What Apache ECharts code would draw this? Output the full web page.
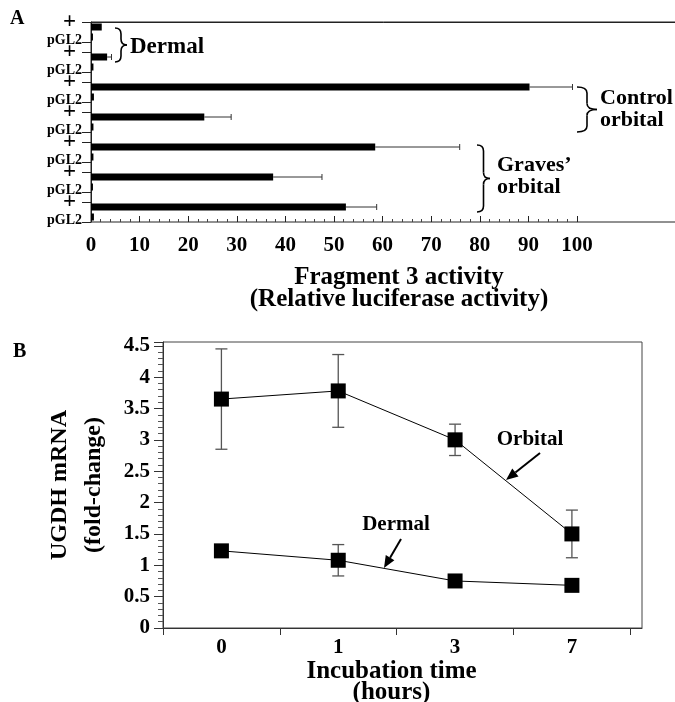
<!DOCTYPE html>
<html>
<head>
<meta charset="utf-8">
<script src="https://cdn.jsdelivr.net/npm/echarts@6/dist/echarts.min.js"></script>
<style>
  html, body { margin: 0; padding: 0; background: #fff; }
  #main { width: 675px; height: 702px; }
</style>
</head>
<body>
<div id="main"></div>
<script>
// panel A - fragment 3 activity, one "+" row and one pGL2 row per sample
const sampleIds = ["d1", "d2", "c1", "c2", "g1", "g2", "g3"];
const plusValues = [2.2, 3.3, 89.8, 23.2, 58.2, 37.3, 52.2];
const plusErr = [0, 0.9, 8.8, 5.5, 17.3, 10.0, 6.3];
const pgl2Values = [0.4, 0.5, 0.6, 0.5, 0.5, 0.4, 0.6];

// panel B - UGDH mRNA time course
const hours = ["0", "1", "3", "7"];
const orbital = [3.65, 3.78, 3.0, 1.5];
const orbitalErr = [0.8, 0.58, 0.25, 0.38];
const dermal = [1.23, 1.08, 0.75, 0.68];
const dermalErr = [0, 0.25, 0, 0];

const FONT = "Liberation Serif";
const txt = (size, extra) => Object.assign({ fontFamily: FONT, fontWeight: "bold", fontSize: size, color: "#000" }, extra || {});

// build the 20 row slots: +, pGL2, gap, +, pGL2, gap ...
const slots = [];
const barData = [];
const errA = [];
const rowTicks = [];
sampleIds.forEach((id, i) => {
  rowTicks.push(slots.length);
  slots.push("+" + id);
  barData.push(plusValues[i]);
  if (plusErr[i] > 0) errA.push([slots.length - 1, plusValues[i], plusValues[i] + plusErr[i]]);
  slots.push("pGL2" + id);
  barData.push(pgl2Values[i]);
  rowTicks.push(slots.length);
  if (i < sampleIds.length - 1) { slots.push("gap" + id); barData.push(null); }
});

const errB = [];
orbital.forEach((v, i) => { if (orbitalErr[i]) errB.push([i, v - orbitalErr[i], v + orbitalErr[i]]); });
dermal.forEach((v, i) => { if (dermalErr[i]) errB.push([i, v - dermalErr[i], v + dermalErr[i]]); });

// annotation helpers (pixel layout)
const ink = { stroke: "#000", lineWidth: 1.6, fill: null };
function curve(x1, y1, cx, cy, x2, y2) {
  return { type: "bezierCurve", shape: { x1: x1, y1: y1, x2: x2, y2: y2, cpx1: cx, cpy1: cy }, style: ink };
}
function brace(x, y0, y1, w) {
  const m = (y0 + y1) / 2, xm = x + w / 2, q = Math.min(w / 2, 6);
  return [
    curve(x, y0, xm, y0, xm, y0 + q),
    { type: "line", shape: { x1: xm, y1: y0 + q, x2: xm, y2: m - q }, style: ink },
    curve(xm, m - q, xm, m, x + w, m),
    curve(x + w, m, xm, m, xm, m + q),
    { type: "line", shape: { x1: xm, y1: m + q, x2: xm, y2: y1 - q }, style: ink },
    curve(xm, y1 - q, xm, y1, x, y1)
  ];
}
function arrow(x1, y1, x2, y2) {
  const a = Math.atan2(y2 - y1, x2 - x1), L = 12, W = 5;
  const bx = x2 - L * Math.cos(a), by = y2 - L * Math.sin(a);
  return [
    { type: "line", shape: { x1: x1, y1: y1, x2: bx, y2: by }, style: { stroke: "#000", lineWidth: 2 } },
    { type: "polygon", shape: { points: [[x2, y2], [bx + W * Math.sin(a), by - W * Math.cos(a)], [bx - W * Math.sin(a), by + W * Math.cos(a)]] }, style: { fill: "#000" } }
  ];
}
function label(x, y, text, size, align) {
  return {
    type: "text", x: x, y: y,
    style: { text: text, fontFamily: FONT, fontWeight: "bold", fontSize: size, lineHeight: size, fill: "#000", align: align || "left", verticalAlign: "middle" }
  };
}

const chart = echarts.init(document.getElementById("main"));
chart.setOption({
  animation: false,
  backgroundColor: "#fff",
  grid: [
    { left: 91, top: 22, width: 586, height: 200, show: true, borderColor: "#222", borderWidth: 1, outerBoundsMode: "none" },
    { left: 91, top: 22, width: 486, height: 200, outerBoundsMode: "none" },
    { left: 163, top: 342, width: 479, height: 286, show: true, borderColor: "#444", borderWidth: 1, outerBoundsMode: "none" }
  ],
  xAxis: [
    {
      gridIndex: 0, type: "value", min: 0, max: 120,
      axisLine: { lineStyle: { color: "#222", width: 1 } },
      axisTick: { show: false }, axisLabel: { show: false }, splitLine: { show: false },
      name: "Fragment 3 activity\n(Relative luciferase activity)",
      nameLocation: "middle", nameGap: 45,
      nameTextStyle: txt(25, { lineHeight: 22, padding: [0, 0, 0, 30] })
    },
    {
      gridIndex: 1, type: "value", min: 0, max: 100, interval: 10,
      axisLine: { show: false },
      axisTick: { inside: true, length: 6, lineStyle: { color: "#222" } },
      minorTick: { show: true, splitNumber: 5, length: 3, lineStyle: { color: "#444" } },
      axisLabel: txt(21, { margin: 13 }),
      splitLine: { show: false }
    },
    {
      gridIndex: 2, type: "value", min: -0.5, max: 3.6,
      axisLine: { onZero: false, lineStyle: { color: "#333", width: 1 } },
      axisTick: { customValues: [-0.5, 0.5, 1.5, 2.5, 3.5], length: 7, lineStyle: { color: "#333" } },
      axisLabel: txt(21, { customValues: [0, 1, 2, 3], margin: 9, formatter: (v) => hours[Math.round(v)] }),
      splitLine: { show: false },
      name: "Incubation time\n(hours)",
      nameLocation: "middle", nameGap: 26,
      nameTextStyle: txt(25, { lineHeight: 21, padding: [0, 22, 0, 0] })
    }
  ],
  yAxis: [
    {
      gridIndex: 0, type: "category", data: slots, inverse: true, position: "left",
      axisLine: { lineStyle: { color: "#222", width: 1 } },
      axisTick: { show: false }, axisLabel: { show: false }
    },
    {
      gridIndex: 0, type: "value", min: 0, max: 20, inverse: true, position: "left",
      axisLine: { show: false }, splitLine: { show: false },
      axisTick: { customValues: rowTicks, length: 9, lineStyle: { color: "#222" } },
      axisLabel: {
        customValues: rowTicks, margin: 9,
        formatter: (v) => (v % 3 === 0 ? "{plus|+}" : "{pgl|pGL2}"),
        rich: {
          plus: txt(23, { padding: [0, 6, 0, 0] }),
          pgl: txt(14, { padding: [0, 0, 3, 0] })
        }
      }
    },
    { gridIndex: 1, type: "value", show: false },
    {
      gridIndex: 2, type: "value", min: 0, max: 4.56, interval: 0.5,
      axisLine: { show: true, onZero: false, lineStyle: { color: "#333", width: 1 } },
      axisTick: { show: true, length: 9, lineStyle: { color: "#333" } },
      minorTick: { show: true, splitNumber: 5, length: 5, lineStyle: { color: "#555" } },
      axisLabel: txt(21, { margin: 13, showMaxLabel: false }),
      splitLine: { show: false },
      name: "UGDH mRNA\n(fold-change)",
      nameLocation: "middle", nameRotate: 90, nameGap: 52,
      nameTextStyle: txt(24, { lineHeight: 34 })
    }
  ],
  series: [
    {
      type: "bar", xAxisIndex: 0, yAxisIndex: 0, data: barData,
      barWidth: 7, itemStyle: { color: "#000" }, silent: true
    },
    {
      type: "custom", xAxisIndex: 0, yAxisIndex: 0, data: errA,
      encode: { y: 0, x: [1, 2] }, silent: true, z: 3,
      renderItem: (params, api) => {
        const a = api.coord([api.value(1), api.value(0)]);
        const b = api.coord([api.value(2), api.value(0)]);
        return {
          type: "group", children: [
            { type: "line", shape: { x1: a[0], y1: a[1], x2: b[0], y2: b[1] }, style: { stroke: "#333", lineWidth: 1 } },
            { type: "line", shape: { x1: b[0], y1: b[1] - 3, x2: b[0], y2: b[1] + 3 }, style: { stroke: "#333", lineWidth: 1 } }
          ]
        };
      }
    },
    {
      type: "custom", xAxisIndex: 2, yAxisIndex: 3, data: errB,
      encode: { x: 0, y: [1, 2] }, silent: true, z: 1,
      renderItem: (params, api) => {
        const lo = api.coord([api.value(0), api.value(1)]);
        const hi = api.coord([api.value(0), api.value(2)]);
        const st = { stroke: "#555", lineWidth: 1.3 };
        return {
          type: "group", children: [
            { type: "line", shape: { x1: lo[0], y1: lo[1], x2: hi[0], y2: hi[1] }, style: st },
            { type: "line", shape: { x1: hi[0] - 6, y1: hi[1], x2: hi[0] + 6, y2: hi[1] }, style: st },
            { type: "line", shape: { x1: lo[0] - 6, y1: lo[1], x2: lo[0] + 6, y2: lo[1] }, style: st }
          ]
        };
      }
    },
    {
      name: "Orbital", type: "line", xAxisIndex: 2, yAxisIndex: 3, z: 2,
      data: orbital.map((v, i) => [i, v]),
      symbol: "rect", symbolSize: 15, itemStyle: { color: "#000" },
      lineStyle: { color: "#000", width: 1 }
    },
    {
      name: "Dermal", type: "line", xAxisIndex: 2, yAxisIndex: 3, z: 2,
      data: dermal.map((v, i) => [i, v]),
      symbol: "rect", symbolSize: 15, itemStyle: { color: "#000" },
      lineStyle: { color: "#000", width: 1 }
    }
  ],
  graphic: [
    label(10, 19, "A", 20),
    label(13, 352, "B", 20),
    ...brace(115, 28, 62, 12),
    label(130, 47, "Dermal", 23),
    ...brace(577, 87, 132, 20),
    label(600, 98, "Control", 22),
    label(600, 120, "orbital", 22),
    ...brace(477, 145, 212, 13),
    label(497, 165, "Graves\u2019", 22),
    label(497, 187, "orbital", 22),
    label(530, 440, "Orbital", 21, "center"),
    ...arrow(540, 453, 506, 480),
    label(396, 525, "Dermal", 21, "center"),
    ...arrow(401, 539, 384, 568)
  ]
});
</script>
</body>
</html>
